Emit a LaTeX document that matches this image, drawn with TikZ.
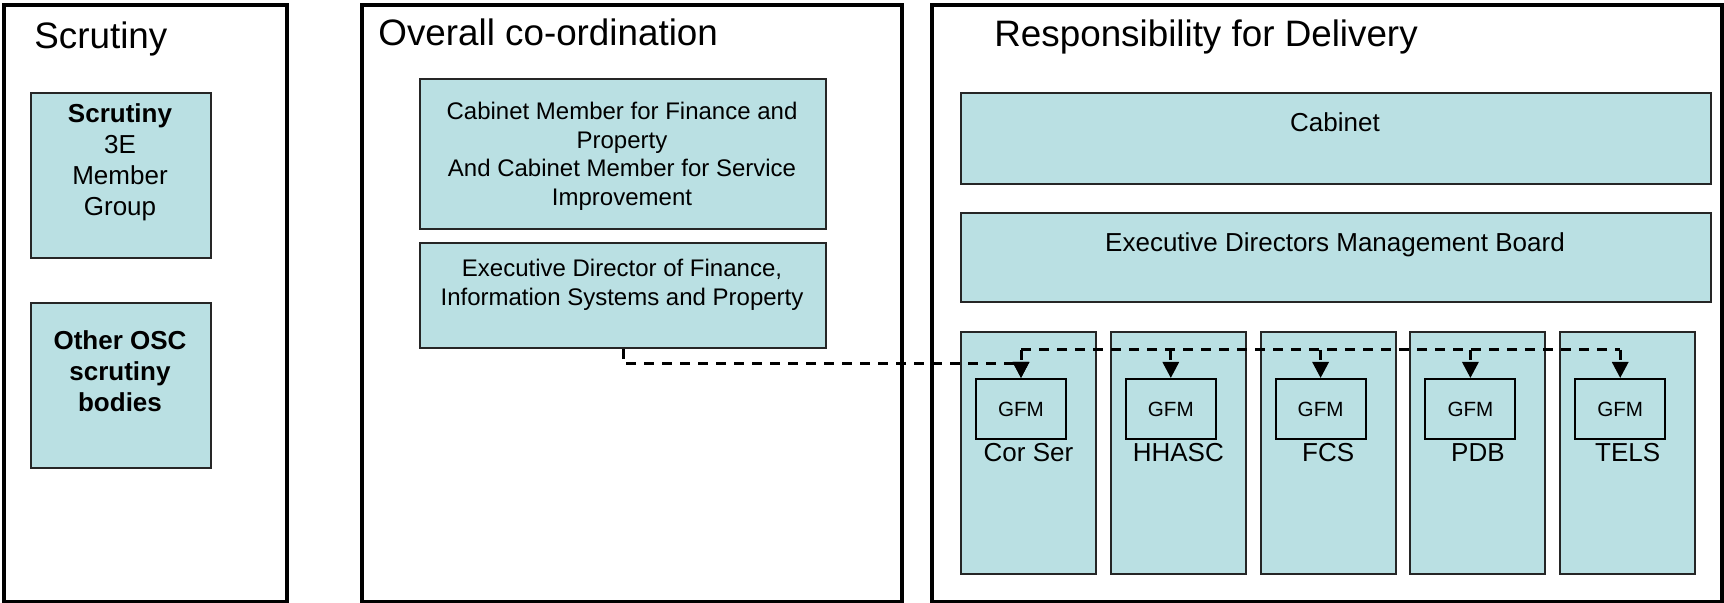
\documentclass[tikz,border=0pt]{standalone}
\usepackage{fontspec}
\setmainfont{Liberation Sans}
\usetikzlibrary{arrows.meta}
\definecolor{boxfill}{RGB}{186,224,227}
\begin{document}
\begin{tikzpicture}[x=0.5pt,y=-0.5pt,
  panel/.style={draw=black, line width=2pt, fill=white, rectangle, inner sep=0pt, anchor=north west},
  box/.style={draw=black!85, line width=1pt, fill=boxfill, rectangle, inner sep=0pt, anchor=north west},
  gfm/.style={draw=black, line width=1pt, fill=boxfill, rectangle, inner sep=0pt, anchor=north west,
    minimum width=45pt, minimum height=30pt, font=\fontsize{10.3pt}{12pt}\selectfont},
  title/.style={inner sep=0pt, anchor=base west, font=\fontsize{18.4pt}{21pt}\selectfont},
  boxtext/.style={inner sep=0pt, anchor=north, align=center, font=\fontsize{12pt}{14.3pt}\selectfont},
  sctext/.style={inner sep=0pt, anchor=north, align=center, font=\fontsize{13pt}{15.5pt}\selectfont},
  onetext/.style={inner sep=0pt, anchor=base, font=\fontsize{13pt}{15.5pt}\selectfont},
  link/.style={draw=black, line width=1.5pt, dash pattern=on 5pt off 4pt,
    -{Triangle[length=8pt,width=8pt]}}
]
\useasboundingbox (0,0) rectangle (1724,603);
\fill[white] (0,0) rectangle (1724,603);

% three panels
\node[panel, minimum width=141.5pt, minimum height=298.5pt] (pscr) at (2,3) {};
\node[panel, minimum width=270pt, minimum height=298.5pt] (pcoord) at (360,3) {};
\node[panel, minimum width=395pt, minimum height=298.5pt] (pdel) at (930,3) {};

\node[title] (tscr) at (34,49) {Scrutiny};
\node[title] (tcoord) at (378,46) {Overall co-ordination};
\node[title] (tdel) at (994,47) {Responsibility for Delivery};

% scrutiny bodies
\node[box, minimum width=90pt, minimum height=82.5pt] (s1) at (30,92) {};
\node[sctext] (s1t) at (120,103) {\textbf{Scrutiny}\\3E\\Member\\Group};
\node[box, minimum width=90pt, minimum height=82.5pt] (s2) at (30,302) {};
\node[sctext, font=\fontsize{13pt}{15.5pt}\selectfont\bfseries] (s2t) at (120,330) {Other OSC\\scrutiny\\bodies};

% co-ordination
\node[box, minimum width=203pt, minimum height=75pt] (cm) at (419,78) {};
\node[boxtext] (cmt) at (622,102) {Cabinet Member for Finance and\\Property\\And Cabinet Member for Service\\Improvement};
\node[box, minimum width=203pt, minimum height=52.5pt] (ed) at (419,242) {};
\node[boxtext] (edt) at (622,259) {Executive Director of Finance,\\Information Systems and Property};

% delivery
\node[box, minimum width=375pt, minimum height=45.5pt] (cab) at (960,92) {};
\node[onetext] (cabt) at (1335,132) {Cabinet};
\node[box, minimum width=375pt, minimum height=44.5pt] (edmb) at (960,212) {};
\node[onetext] (edmbt) at (1335,252) {Executive Directors Management Board};

\foreach \i/\lab in {1/Cor Ser,2/HHASC,3/FCS,4/PDB,5/TELS}{
  \pgfmathsetmacro\xl{960+149.8*(\i-1)}
  \node[box, minimum width=67.5pt, minimum height=121pt] (col\i) at (\xl,331) {};
  \node[gfm] (g\i) at (\xl+15,378) {GFM};
  \node[onetext] (l\i) at (\xl+68.5,462) {\lab};
}

% dashed reporting lines
\coordinate (lowlvl) at (0,364);
\coordinate (uplvl) at (0,350);
\draw[link] (ed.south) |- (g1.north |- lowlvl) -- (g1.north);
\draw[link, -] (g1.north |- uplvl) -- (g5.north |- uplvl);
\foreach \i in {1,...,5}
  \draw[link] (g\i.north |- uplvl) -- (g\i.north);
\end{tikzpicture}
\end{document}
